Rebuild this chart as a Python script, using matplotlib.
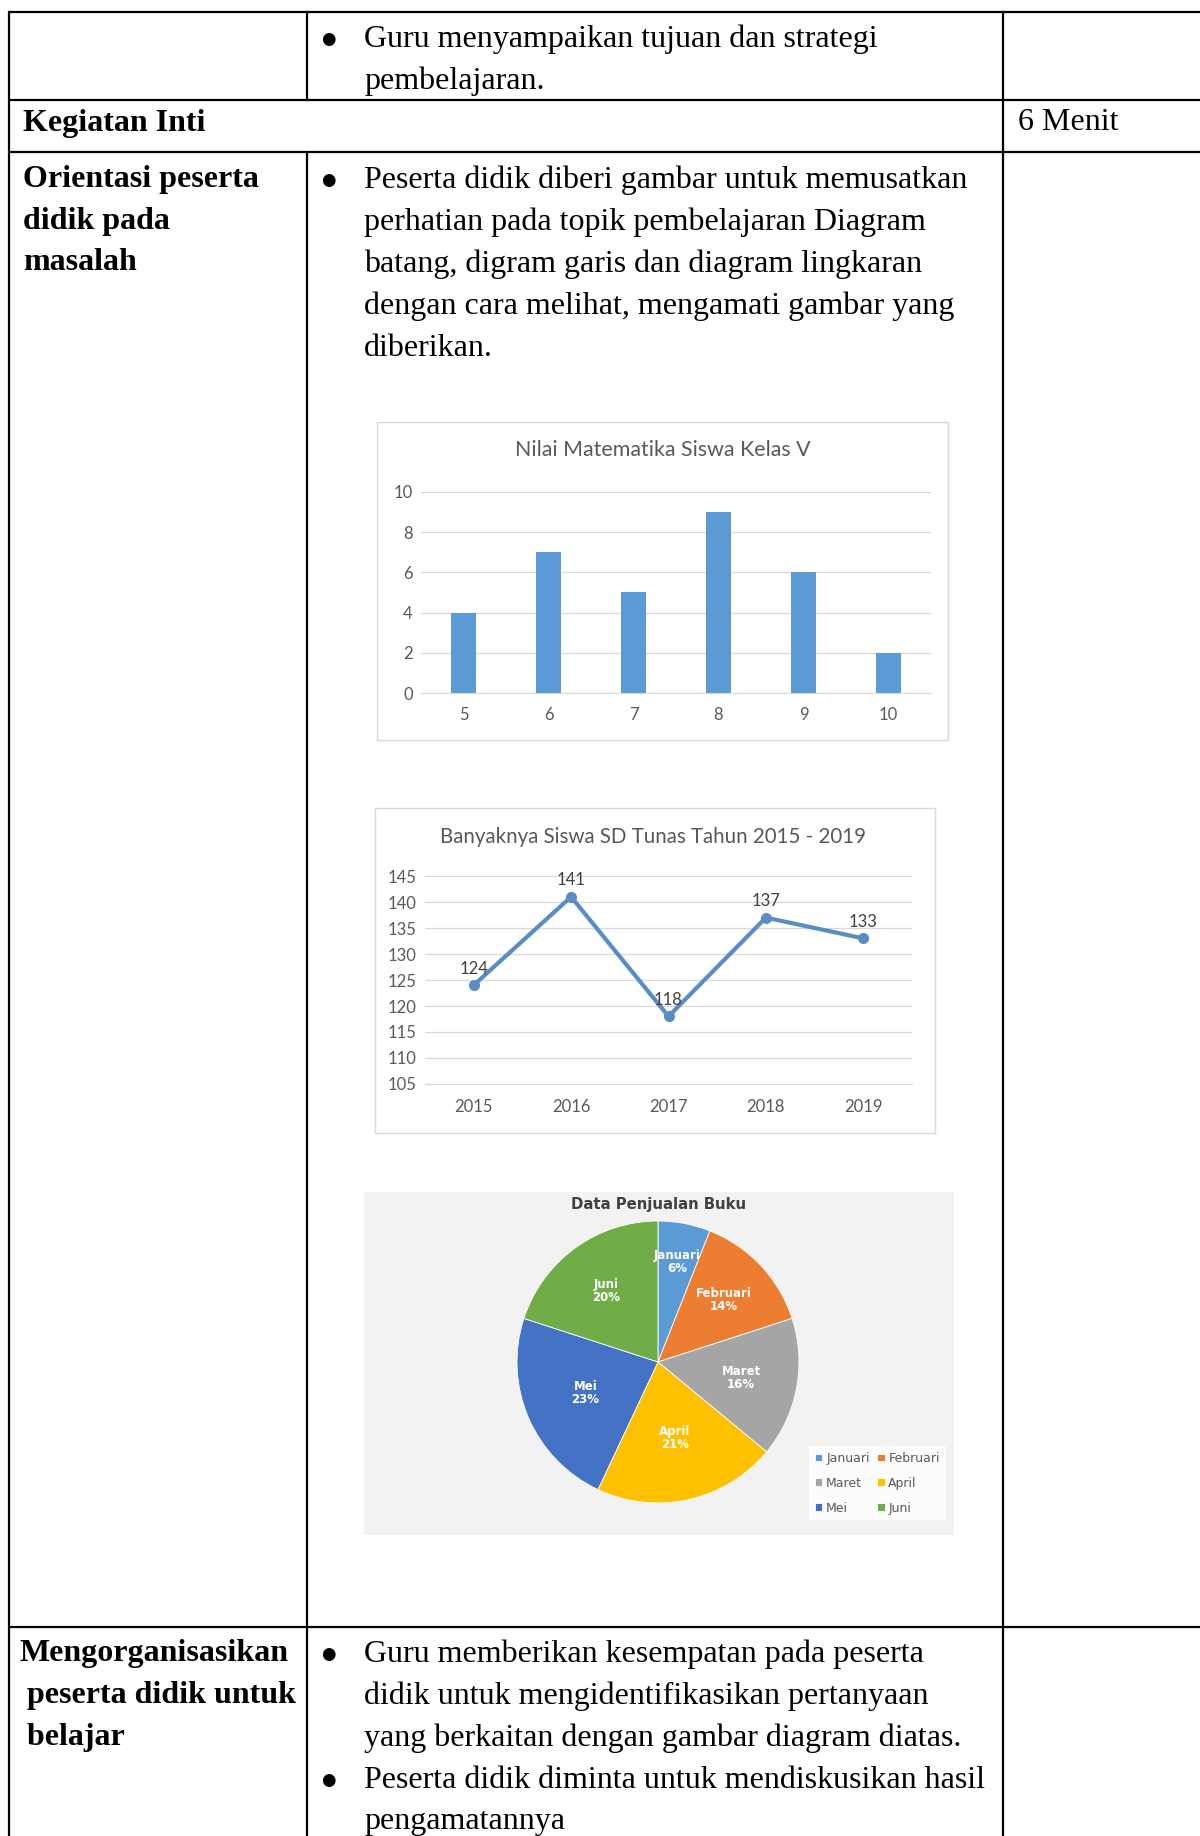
import numpy as np
import matplotlib.pyplot as plt
from matplotlib.patches import Rectangle

W, H = 1200, 1836

# data
nilai = ['5', '6', '7', '8', '9', '10']
jumlah_nilai = [4, 7, 5, 9, 6, 2]

tahun = ['2015', '2016', '2017', '2018', '2019']
jumlah_siswa = [124, 141, 118, 137, 133]

bulan = ['Januari', 'Februari', 'Maret', 'April', 'Mei', 'Juni']
penjualan = [6, 14, 16, 21, 23, 20]
warna_bulan = ['#5B9BD5', '#ED7D31', '#A5A5A5', '#FFC000', '#4472C4', '#70AD47']

serif = 'Liberation Serif'
sans = 'Lato'
fs = 23
gray = '#595959'

fig = plt.figure(figsize=(W / 100, H / 100), dpi=100)
bg = fig.add_axes([0, 0, 1, 1])
bg.set_xlim(0, W)
bg.set_ylim(H, 0)
bg.axis('off')


def px_axes(x0, y0, x1, y1):
    return fig.add_axes([x0 / W, 1 - y1 / H, (x1 - x0) / W, (y1 - y0) / H])


# table grid
lw = 1.6
for y in [12, 100, 152, 1627]:
    bg.plot([9, W], [y, y], color='black', lw=lw, solid_capstyle='butt')
bg.plot([9, 9], [12, H], color='black', lw=lw)
bg.plot([1003, 1003], [12, H], color='black', lw=lw)
bg.plot([307, 307], [12, 100], color='black', lw=lw)
bg.plot([307, 307], [152, H], color='black', lw=lw)


def bullet_lines(y_first, lines, bullets, step=42):
    for i, line in enumerate(lines):
        y = y_first + i * step
        if bullets[i]:
            bg.text(321, y, '\u25CF', fontsize=12, family='DejaVu Sans', va='center', ha='left')
        bg.text(364, y, line, fontsize=fs, family=serif, va='center', ha='left')


bullet_lines(39, ['Guru menyampaikan tujuan dan strategi', 'pembelajaran.'], [1, 0])

bg.text(23, 123, 'Kegiatan Inti', fontsize=fs, family=serif, weight='bold', va='center')
bg.text(1018, 123, '6 Menit', fontsize=fs, family=serif, va='center')

for i, line in enumerate(['Orientasi peserta', 'didik pada', 'masalah']):
    bg.text(23, 180 + i * 41, line, fontsize=fs, family=serif, weight='bold', va='center')
bullet_lines(180, ['Peserta didik diberi gambar untuk memusatkan',
                   'perhatian pada topik pembelajaran Diagram',
                   'batang, digram garis dan diagram lingkaran',
                   'dengan cara melihat, mengamati gambar yang',
                   'diberikan.'], [1, 0, 0, 0, 0])

for i, line in enumerate(['Mengorganisasikan', ' peserta didik untuk', ' belajar']):
    bg.text(19, 1654 + i * 42, line, fontsize=fs, family=serif, weight='bold', va='center')
bullet_lines(1654, ['Guru memberikan kesempatan pada peserta',
                    'didik untuk mengidentifikasikan pertanyaan',
                    'yang berkaitan dengan gambar diagram diatas.',
                    'Peserta didik diminta untuk mendiskusikan hasil',
                    'pengamatannya'], [1, 0, 0, 1, 0])

# chart frames
bg.add_patch(Rectangle((377, 422), 571, 318, facecolor='white', edgecolor='#D9D9D9', lw=1))
bg.add_patch(Rectangle((375, 808), 560, 325, facecolor='white', edgecolor='#D9D9D9', lw=1))
bg.add_patch(Rectangle((364, 1192), 590, 343, facecolor='#F2F2F2', edgecolor='none'))


def style_excel(ax, xpad):
    for s in ['top', 'right', 'left']:
        ax.spines[s].set_visible(False)
    ax.spines['bottom'].set_color('#D9D9D9')
    ax.tick_params(length=0, colors=gray, labelsize=12)
    ax.tick_params(axis='y', pad=6)
    ax.tick_params(axis='x', pad=xpad)
    for lab in ax.get_xticklabels() + ax.get_yticklabels():
        lab.set_family(sans)
    ax.grid(axis='y', color='#D9D9D9', lw=0.9)
    ax.set_axisbelow(True)
    ax.set_facecolor('none')


# bar chart
ax1 = px_axes(421, 492, 931, 693)
ax1.bar(range(len(nilai)), jumlah_nilai, width=0.3, color='#5B9BD5')
ax1.set_xticks(range(len(nilai)))
ax1.set_xticklabels(nilai)
ax1.set_xlim(-0.5, len(nilai) - 0.5)
ax1.set_ylim(0, 10)
ax1.set_yticks(np.arange(0, 11, 2))
style_excel(ax1, 10)
bg.text(663, 450, 'Nilai Matematika Siswa Kelas V', fontsize=15.4, family=sans,
        color=gray, ha='center', va='center')

# line chart
ax2 = px_axes(425, 876, 912, 1084)
ax2.plot(range(len(tahun)), jumlah_siswa, color='#5A8CC6', lw=3, marker='o', ms=7)
for i, v in enumerate(jumlah_siswa):
    ax2.annotate(str(v), (i, v), xytext=(0, 6), textcoords='offset points',
                 ha='center', va='bottom', fontsize=12, family=sans, color='#404040')
ax2.set_xticks(range(len(tahun)))
ax2.set_xticklabels(tahun)
ax2.set_xlim(-0.5, len(tahun) - 0.5)
ax2.set_ylim(105, 145)
ax2.set_yticks(np.arange(105, 146, 5))
style_excel(ax2, 11)
bg.text(653, 837, 'Banyaknya Siswa SD Tunas Tahun 2015 - 2019', fontsize=14.8, family=sans,
        color=gray, ha='center', va='center')

# pie chart
r_px = 141
cx, cy = 658, 1362
ax3 = px_axes(cx - r_px, cy - r_px, cx + r_px, cy + r_px)
wedges, _ = ax3.pie(penjualan, colors=warna_bulan, startangle=90, counterclock=False,
                    radius=1, wedgeprops=dict(edgecolor='white', lw=0.6))
ax3.set_xlim(-1, 1)
ax3.set_ylim(-1, 1)
label_r = [0.72, 0.64, 0.6, 0.55, 0.56, 0.62]
for w, name, pct, rr in zip(wedges, bulan, penjualan, label_r):
    ang = np.deg2rad((w.theta1 + w.theta2) / 2)
    ax3.text(rr * np.cos(ang), rr * np.sin(ang), f'{name}\n{pct}%', ha='center', va='center',
             fontsize=8.5, weight='bold', color='white', linespacing=1.0)
bg.text(659, 1205, 'Data Penjualan Buku', fontsize=10.7, weight='bold', color='#404040',
        ha='center', va='center')
# legend fills row by row: Januari Februari / Maret April / Mei Juni
order = [0, 2, 4, 1, 3, 5]
leg = fig.legend([wedges[i] for i in order], [bulan[i] for i in order], ncol=2, loc='upper left',
                 bbox_to_anchor=(803 / W, 1 - 1440 / H), frameon=True, fontsize=9,
                 handlelength=0.6, handleheight=0.6, columnspacing=0.6, handletextpad=0.3,
                 labelspacing=0.95, borderpad=0.45, labelcolor=gray)
leg.get_frame().set_facecolor('white')
leg.get_frame().set_edgecolor('none')
leg.get_frame().set_boxstyle('square', pad=0)

fig.savefig('out.png', dpi=100)
